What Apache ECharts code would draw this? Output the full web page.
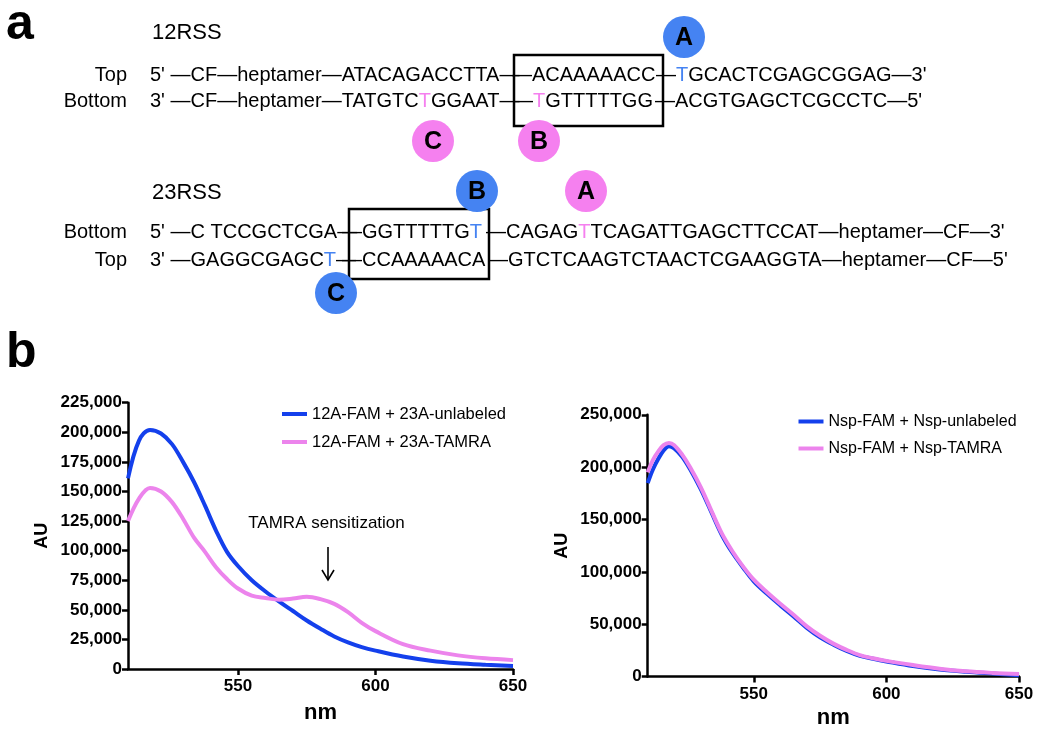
<!DOCTYPE html>
<html><head><meta charset="utf-8">
<script src="https://cdn.jsdelivr.net/npm/echarts@6/dist/echarts.min.js"></script>
<style>html,body{margin:0;padding:0;background:#fff}#c{width:1050px;height:733px}</style>
</head><body><div id="c"></div>
<script>
// ---------------- data ----------------
const wlLeft = [510,514,518,522,526,530,534,538,542,546,550,555,560,565,570,575,580,585,590,595,600,610,620,630,640,650];
const fam12Unlabeled = [161000,193000,202000,199000,190000,175000,158000,138000,117000,99000,87000,75000,65500,57000,49000,41000,34000,27500,22500,18500,15500,10500,7000,4800,3500,2500];
const fam12Tamra = [125000,144000,153000,150000,141000,127000,111000,99000,86000,76000,68000,62000,60000,58500,59500,61000,59000,55000,48000,39000,32000,21000,15500,11500,9000,7500];

const wlRight = [510,512,514,516,518,520,523,526,530,534,538,542,546,550,555,560,565,570,575,580,585,590,595,600,610,620,630,640,650];
const nspUnlabeled = [184800,198000,208000,216000,220000,218000,210000,198000,179000,157000,135000,118000,104000,91000,79000,68000,57500,46500,37500,30500,24500,19800,17000,14500,10000,6800,4600,2900,1300];
const nspTamra = [195000,207000,215000,221000,223000,221000,212000,200000,181000,158500,136500,119500,105000,92500,80500,69500,59000,48000,39000,31500,25500,20500,17500,15000,11000,7500,5000,3500,2500];

const xTickValues = [550, 600, 650];
const namesLeft = ['12A-FAM + 23A-unlabeled', '12A-FAM + 23A-TAMRA'];
const namesRight = ['Nsp-FAM + Nsp-unlabeled', 'Nsp-FAM + Nsp-TAMRA'];
const annotationText = 'TAMRA sensitization';
const panelLetters = ['a', 'b'];
const rssTitles = ['12RSS', '23RSS'];
const strandLabels12 = ['Top', 'Bottom'];
const strandLabels23 = ['Bottom', 'Top'];

const rss12Top = [
  [["5' —CF—heptamer—ATACAGACCTTA—", 'k']],
  [["—ACAAAAACC", 'k']],
  [["—", 'k'], ["T", 'b'], ["GCACTCGAGCGGAG—3'", 'k']]
];
const rss12Bottom = [
  [["3' —CF—heptamer—TATGTC", 'k'], ["T", 'p'], ["GGAAT—", 'k']],
  [["—", 'k'], ["T", 'p'], ["GTTTTTGG", 'k']],
  [["—ACGTGAGCTCGCCTC—5'", 'k']]
];
const rss23Bottom = [
  [["5' —C TCCGCTCGA—", 'k']],
  [["—GGTTTTTG", 'k'], ["T", 'b']],
  [["—CAGAG", 'k'], ["T", 'p'], ["TCAGATTGAGCTTCCAT—heptamer—CF—3'", 'k']]
];
const rss23Top = [
  [["3' —GAGGCGAGC", 'k'], ["T", 'b'], ["—", 'k']],
  [["—CCAAAAACA", 'k']],
  [["—GTCTCAAGTCTAACTCGAAGGTA—heptamer—CF—5'", 'k']]
];
const markerLetters = [['A','b'], ['C','p'], ['B','p'], ['B','b'], ['A','p'], ['C','b']];

// ---------------- style / layout ----------------
const FONT = '"Liberation Sans", Arial, Helvetica, sans-serif';
const BLUE = '#1440ec';
const PINK = '#ec84ec';
const DOT_BLUE = '#4583f2';
const DOT_PINK = '#f580ef';
const colorOf = {k: '#000', b: DOT_BLUE, p: DOT_PINK};

const cvs = document.createElement('canvas');
const ctx = cvs.getContext('2d');
function textWidth(t, font) { ctx.font = font; return ctx.measureText(t).width; }

const graphics = [];
function txt(x, y, text, font, align, fill) {
  graphics.push({type: 'text', x: x, y: y, z: 10, style: {text: text, font: font, fill: fill || '#000',
    align: align || 'left', verticalAlign: 'middle', textAlign: align || 'left', textVerticalAlign: 'middle'}});
}
const seqFont = '20px ' + FONT;
function row(groups, xs, y) {
  groups.forEach((g, gi) => {
    let x = xs[gi];
    g.forEach(run => {
      txt(x, y, run[0], seqFont, 'left', colorOf[run[1]]);
      x += textWidth(run[0], seqFont);
    });
  });
}

// panel letters
txt(6, 25, panelLetters[0], 'bold 50px ' + FONT);
txt(6, 353, panelLetters[1], 'bold 50px ' + FONT);
// titles
txt(152, 33, rssTitles[0], '22px ' + FONT);
txt(152, 193, rssTitles[1], '22px ' + FONT);
// strand labels
txt(127, 75, strandLabels12[0], seqFont, 'right');
txt(127, 101.5, strandLabels12[1], seqFont, 'right');
txt(127, 232, strandLabels23[0], seqFont, 'right');
txt(127, 260, strandLabels23[1], seqFont, 'right');
// boxes
graphics.push({type: 'rect', z: 5, shape: {x: 514, y: 55, width: 149, height: 71}, style: {fill: 'none', stroke: '#000', lineWidth: 2.5}});
graphics.push({type: 'rect', z: 5, shape: {x: 349, y: 209, width: 140, height: 70}, style: {fill: 'none', stroke: '#000', lineWidth: 2.5}});
// sequences
row(rss12Top, [150, 512, 656], 75);
row(rss12Bottom, [150, 513, 655], 101.5);
row(rss23Bottom, [150, 342, 486], 232);
row(rss23Top, [150, 342, 488], 260);
// markers
const markerPos = [[684, 37], [433, 141], [539, 141], [477, 191], [586, 191], [336, 293]];
markerLetters.forEach((m, i) => {
  const p = markerPos[i];
  graphics.push({type: 'circle', z: 11, shape: {cx: p[0], cy: p[1], r: 21}, style: {fill: m[1] === 'b' ? DOT_BLUE : DOT_PINK}});
  graphics.push({type: 'text', x: p[0], y: p[1] + 1, z: 12, style: {text: m[0], font: 'bold 25px ' + FONT, fill: '#000',
    align: 'center', verticalAlign: 'middle', textAlign: 'center', textVerticalAlign: 'middle'}});
});
// annotation
txt(326.5, 523, annotationText, '17px ' + FONT, 'center');
graphics.push({type: 'line', z: 10, shape: {x1: 328, y1: 547, x2: 328, y2: 580}, style: {stroke: '#000', lineWidth: 1.6}});
graphics.push({type: 'polyline', z: 10, shape: {points: [[322, 570], [328, 580], [334, 570]]}, style: {stroke: '#000', fill: 'none', lineWidth: 1.6}});

const fmt = v => String(v).replace(/\B(?=(\d{3})+(?!\d))/g, ',');
function xAxis(gi, gap) {
  return {gridIndex: gi, type: 'value', min: 510, max: 650,
    axisLine: {show: true, lineStyle: {color: '#000', width: 2.5}},
    axisTick: {show: true, customValues: xTickValues, length: 6, lineStyle: {color: '#000', width: 2.5}},
    axisLabel: {customValues: xTickValues, margin: 9, fontSize: 17, fontWeight: 'bold', color: '#000', fontFamily: FONT},
    splitLine: {show: false},
    name: 'nm', nameLocation: 'middle', nameGap: gap,
    nameTextStyle: {fontSize: 22, fontWeight: 'bold', color: '#000', fontFamily: FONT}};
}
function yAxis(gi, max, interval) {
  return {gridIndex: gi, type: 'value', min: 0, max: max, interval: interval,
    axisLine: {show: true, lineStyle: {color: '#000', width: 2.5}},
    axisTick: {show: true, length: 6, lineStyle: {color: '#000', width: 2.5}},
    axisLabel: {margin: 6, fontSize: 17, fontWeight: 'bold', color: '#000', fontFamily: FONT, formatter: fmt},
    splitLine: {show: false},
    name: 'AU', nameLocation: 'middle', nameGap: 77, nameRotate: 90,
    nameTextStyle: {fontSize: 18, fontWeight: 'bold', color: '#000', fontFamily: FONT}};
}
function legend(name, left, top, fs) {
  return {data: [name], left: left, top: top, padding: 0, itemWidth: 25, itemHeight: 4, icon: 'rect',
    selectedMode: false, textStyle: {fontSize: fs, color: '#000', fontFamily: FONT}};
}
function line(name, xi, xs, ys, color) {
  return {type: 'line', name: name, xAxisIndex: xi, yAxisIndex: xi,
    data: xs.map((w, i) => [w, ys[i]]), symbol: 'none', showSymbol: false, smooth: 0.35,
    lineStyle: {width: 4, color: color}, itemStyle: {color: color}};
}

const chart = echarts.init(document.getElementById('c'), null, {renderer: 'canvas'});
chart.setOption({
  animation: false,
  backgroundColor: '#fff',
  grid: [
    {left: 128, top: 402.7, width: 385, height: 266.3},
    {left: 647.7, top: 414.8, width: 371.3, height: 261.8}
  ],
  xAxis: [xAxis(0, 33), xAxis(1, 30)],
  yAxis: [yAxis(0, 225000, 25000), yAxis(1, 250000, 50000)],
  legend: [
    legend(namesLeft[0], 282, 405.5, 16.5),
    legend(namesLeft[1], 282, 433.5, 16.5),
    legend(namesRight[0], 798.5, 413.5, 16),
    legend(namesRight[1], 798.5, 440.5, 16)
  ],
  series: [
    line(namesLeft[0], 0, wlLeft, fam12Unlabeled, BLUE),
    line(namesLeft[1], 0, wlLeft, fam12Tamra, PINK),
    line(namesRight[0], 1, wlRight, nspUnlabeled, BLUE),
    line(namesRight[1], 1, wlRight, nspTamra, PINK)
  ],
  graphic: graphics
});
</script></body></html>
